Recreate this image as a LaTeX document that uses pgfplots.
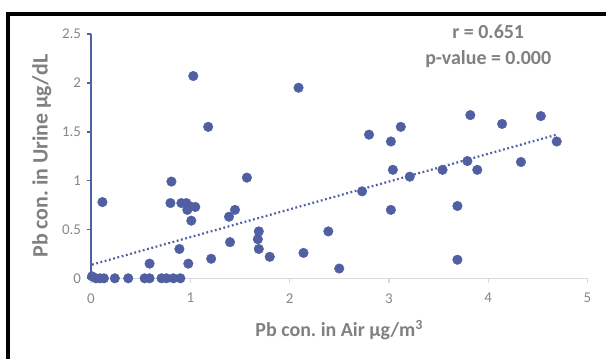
\documentclass[border=0pt]{standalone}
\usepackage{pgfplots}
\pgfplotsset{compat=1.18}
\usepackage{fontspec}
\setmainfont{Carlito}
\frenchspacing
\definecolor{mk}{RGB}{80,95,162}
\definecolor{lbl}{RGB}{128,128,128}
\definecolor{tkl}{RGB}{135,135,135}
\definecolor{xax}{RGB}{217,217,217}
\begin{document}
\begin{tikzpicture}
\path[use as bounding box] (0,0) rectangle (606bp,359bp);
\clip (0,0) rectangle (606bp,359bp);
\fill[white] (0,0) rectangle (606bp,359bp);
\draw[black, line width=3.5bp] (8bp,345bp) rectangle (700bp,-60bp);
\begin{axis}[
  at={(91bp,80.7bp)}, anchor=south west,
  scale only axis, width=496.5bp, height=244.3bp,
  xmin=0, xmax=5, ymin=0, ymax=2.5,
  axis x line*=bottom, axis y line*=left,
  x axis line style={draw=xax, line width=1.2bp},
  y axis line style={draw=mk, line width=1.6bp},
  xtick={0,1,2,3,4,5}, ytick={0,0.5,1,1.5,2,2.5},
  tick align=outside,
  major tick length=4.5bp,
  x tick style={draw=xax, line width=1.2bp},
  y tick style={draw=mk, line width=1.6bp},
  /pgf/number format/assume math mode=true,
  tick label style={font=\fontsize{15}{15}\selectfont, text=tkl},
  xticklabel style={yshift=-7bp},
  yticklabel style={xshift=-2bp},
  xlabel={Pb con. in Air µg/m\textsuperscript{3}},
  ylabel={Pb con. in Urine µg/dL},
  xlabel style={font=\bfseries\fontsize{20}{20}\selectfont, text=lbl, at={(axis description cs:0.5,-0.213)}, anchor=center},
  ylabel style={font=\bfseries\fontsize{22}{22}\selectfont, text=lbl, at={(axis description cs:-0.099,0.5)}, anchor=center, rotate=0},
  clip=false,
]
\addplot[only marks, mark=*, mark size=4.8bp, mark options={draw=mk, fill=mk}] coordinates {
(0.01,0.02) (0.05,0) (0.09,0) (0.13,0) (0.24,0) (0.375,0) (0.54,0) (0.59,0)
(0.71,0) (0.76,0) (0.83,0) (0.90,0)
(0.115,0.78) (0.59,0.15) (0.81,0.99) (0.80,0.77) (0.89,0.30) (0.91,0.77)
(0.96,0.77) (0.99,0.74) (0.97,0.70) (1.05,0.73) (1.01,0.59) (0.98,0.15)
(1.03,2.07) (1.18,1.55) (1.21,0.20) (1.39,0.63) (1.45,0.70) (1.40,0.37)
(1.57,1.03) (1.69,0.48) (1.68,0.40) (1.69,0.30) (1.80,0.22) (2.09,1.95)
(2.14,0.26) (2.39,0.48) (2.50,0.10) (2.73,0.89) (2.80,1.47) (3.02,1.40)
(3.12,1.55) (3.04,1.11) (3.02,0.70) (3.21,1.04) (3.54,1.11) (3.69,0.74)
(3.69,0.19) (3.79,1.20) (3.89,1.11) (3.82,1.67) (4.14,1.58) (4.33,1.19)
(4.53,1.66) (4.69,1.40)
};
\addplot[mk, line width=2.2bp, dash pattern=on 1.8bp off 2.6bp] coordinates {(0.01,0.14) (4.69,1.47)};
\node[font=\bfseries\fontsize{20}{20}\selectfont, text=lbl] at (axis cs:4.0,2.524) {r = 0.651};
\node[font=\bfseries\fontsize{20}{20}\selectfont, text=lbl] at (axis cs:4.0,2.24) {p-value = 0.000};
\end{axis}
\end{tikzpicture}
\end{document}
